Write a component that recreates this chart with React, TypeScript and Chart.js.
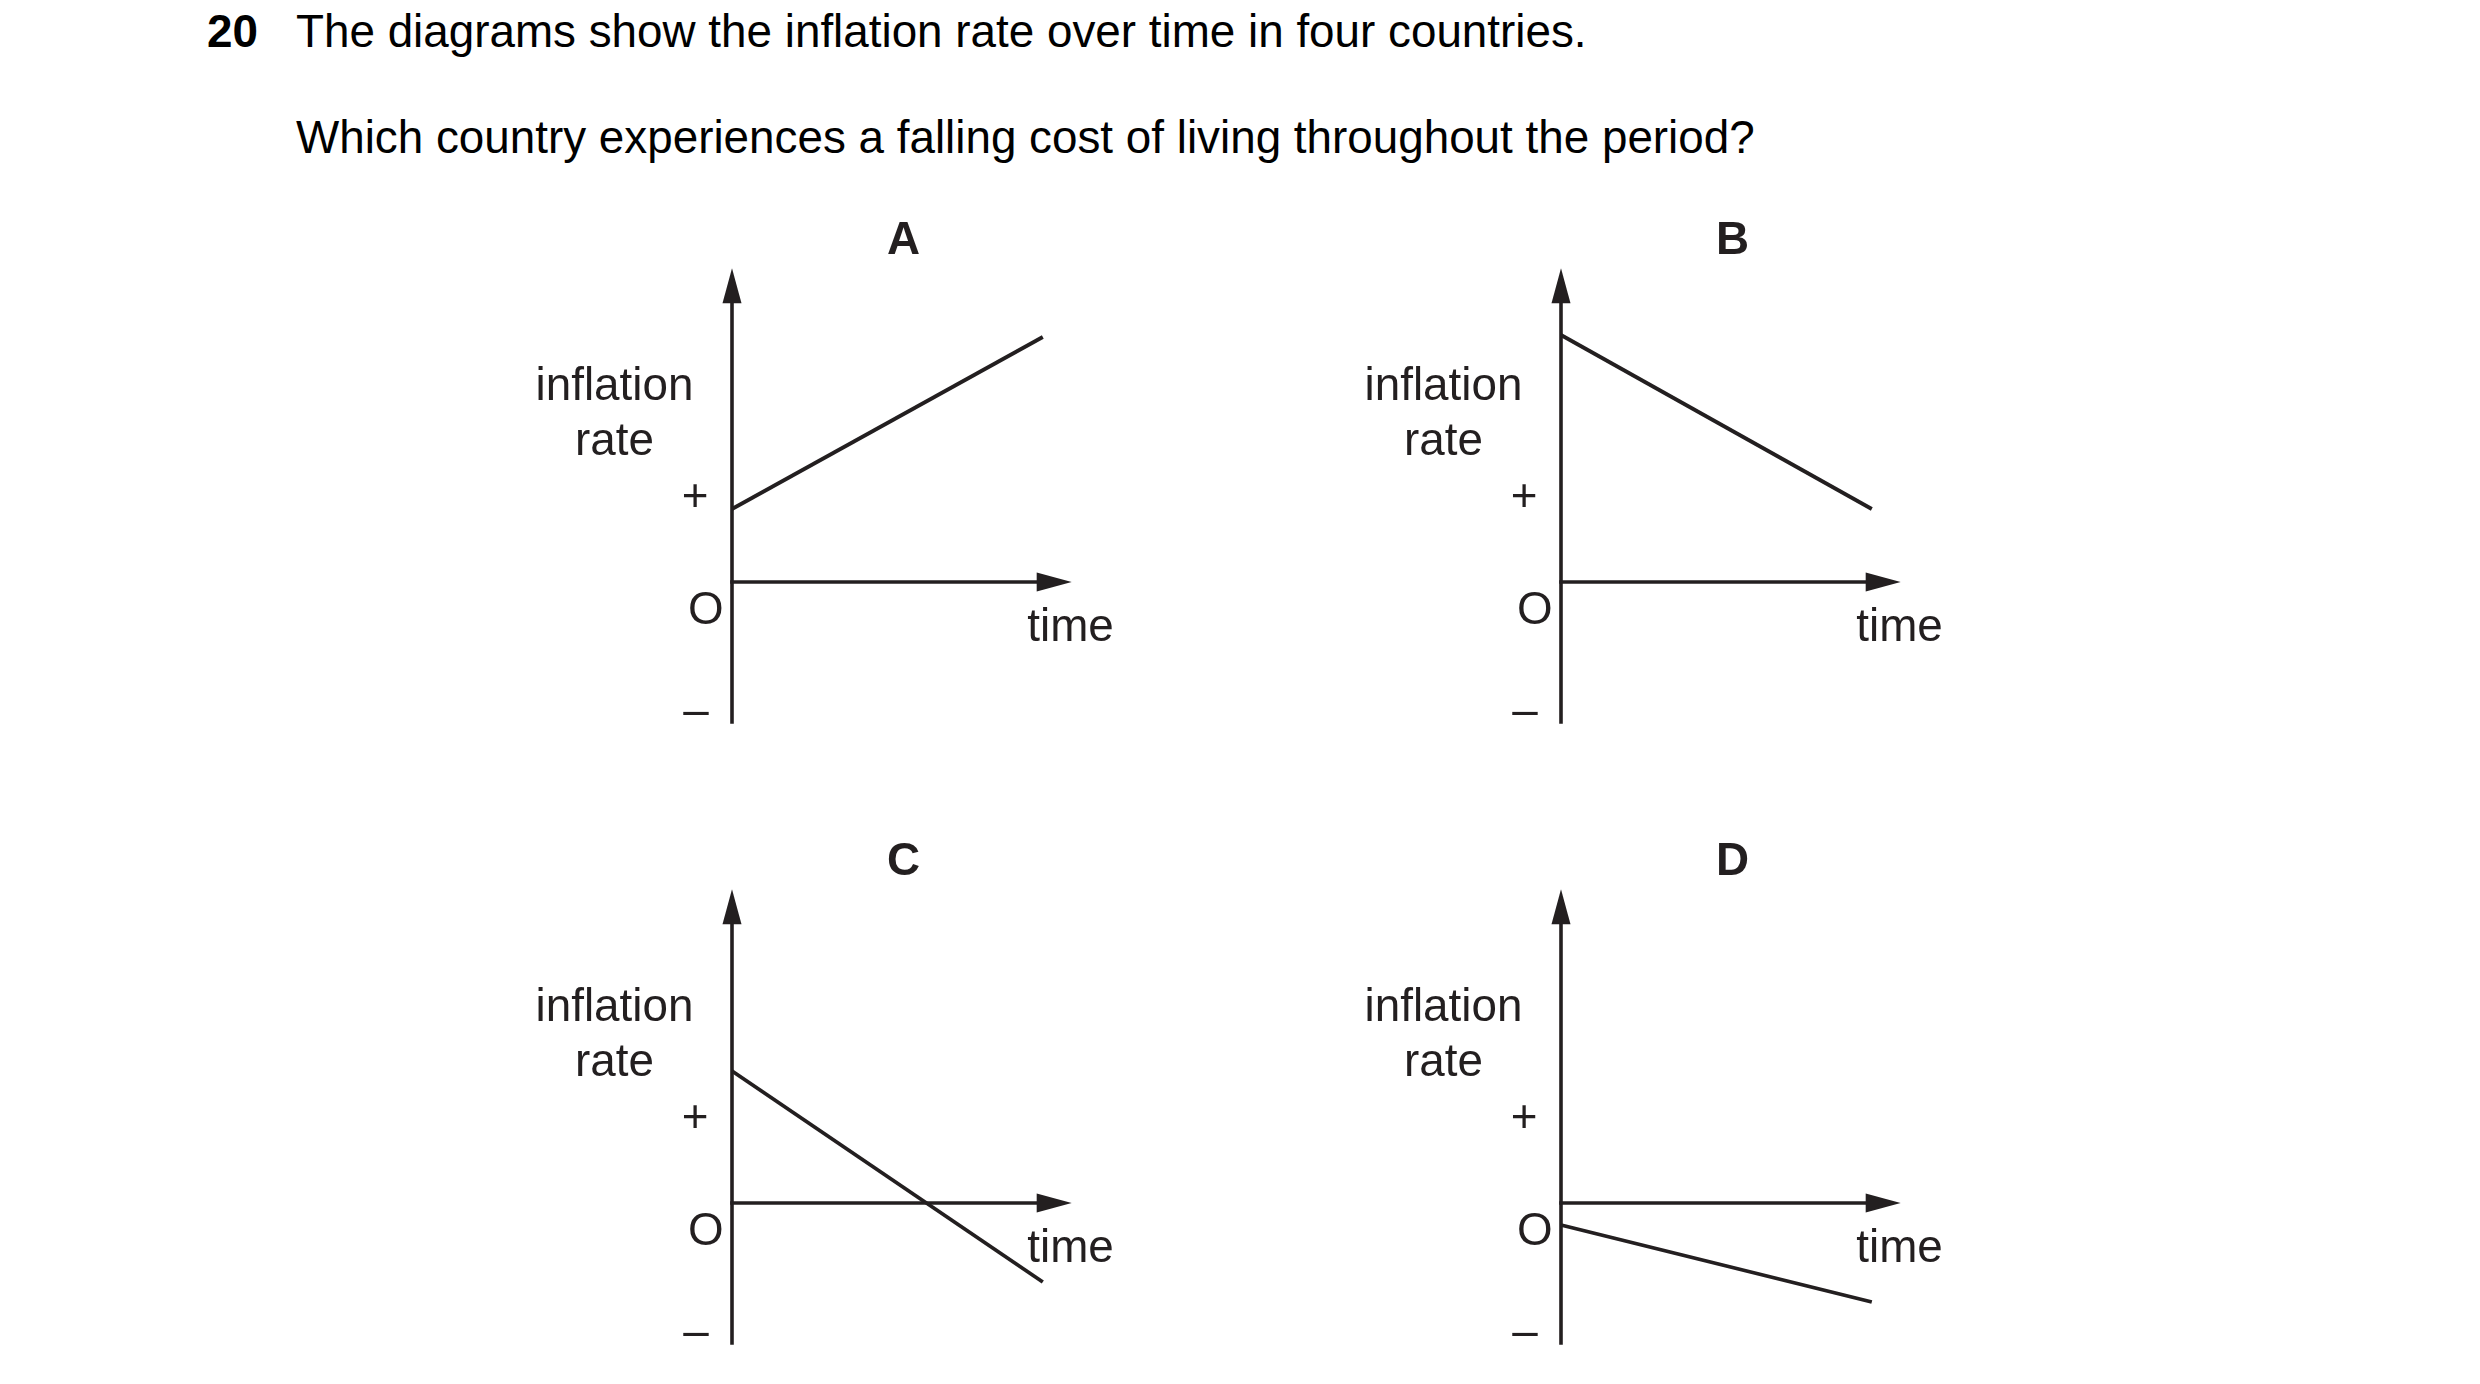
import React, { useEffect, useRef } from "react";
import { Chart, registerables } from "chart.js";

Chart.register(...registerables);

// ---------- data ----------
const QUESTION_NUMBER = "20";
const QUESTION_LINE_1 = "The diagrams show the inflation rate over time in four countries.";
const QUESTION_LINE_2 = "Which country experiences a falling cost of living throughout the period?";

const PANEL_LABELS = ["A", "B", "C", "D"];
const TIME_POINTS = [0, 10];
const RATE_A = [7.3, 24.5];
const RATE_B = [24.7, 7.3];
const RATE_C = [13.2, -7.9];
const RATE_D = [-2.2, -9.9];
const PANEL_SERIES = [RATE_A, RATE_B, RATE_C, RATE_D];

const Y_TICK_LABELS = ["+", "O", "–"];
const Y_AXIS_TITLE = ["inflation", "rate"];
const X_AXIS_TITLE = "time";

// axis ranges (arbitrary units)
const X_MIN = 0;
const X_MAX = 10.93;
const Y_MIN = -14.18;
const Y_MAX = 31.37;

// ---------- layout / style ----------
const INK = "#231f20";
const FONT_FAMILY = '"Liberation Sans", Arial, Helvetica, sans-serif';
const FONT_PX = 45.8;
const AXIS_W = 3.6;
const LINE_W = 3.8;
const ARROW_LEN = 35;
const ARROW_HALF = 9.5;

const PAD = { left: 240, top: 66.3, right: 70.3, bottom: 20.2 };
const CANVAS_W = 650;
const CANVAS_H = 542;
// origins (where axes cross) of each panel in page pixels
const ORIGINS = [
  [732, 581.5],
  [1560.8, 581.5],
  [732, 1203.2],
  [1560.8, 1203.2],
];

// label offsets from the origin, px
const LAYOUT = {
  title: { dx: 171.5, dy: -328.5 },
  yTitle: { dx: -117.5, dy1: -181.6, dy2: -127.1 },
  plus: { dx: -37, dy: -71.3 },
  zero: { dx: -26.3, dy: 42.3 },
  minus: { dx: -36, dy: 143 },
  xTitle: { dx: 338.5, dy: 58.5 },
};

const arrowAxesPlugin = {
  id: "arrowAxes",
  beforeDatasetsDraw(chart: any) {
    const ctx = chart.ctx;
    const xs = chart.scales.x;
    const ys = chart.scales.y;
    const ox = xs.getPixelForValue(0);
    const oy = ys.getPixelForValue(0);
    const top = ys.getPixelForValue(ys.max);
    const bottom = ys.getPixelForValue(ys.min);
    const right = xs.getPixelForValue(xs.max);
    ctx.save();
    ctx.strokeStyle = INK;
    ctx.fillStyle = INK;
    ctx.lineWidth = AXIS_W;
    ctx.lineCap = "butt";
    // y axis
    ctx.beginPath();
    ctx.moveTo(ox, bottom);
    ctx.lineTo(ox, top + ARROW_LEN - 1);
    ctx.stroke();
    ctx.beginPath();
    ctx.moveTo(ox, top);
    ctx.lineTo(ox - ARROW_HALF, top + ARROW_LEN);
    ctx.lineTo(ox + ARROW_HALF, top + ARROW_LEN);
    ctx.closePath();
    ctx.fill();
    // x axis
    ctx.beginPath();
    ctx.moveTo(ox - AXIS_W / 2, oy);
    ctx.lineTo(right - ARROW_LEN + 1, oy);
    ctx.stroke();
    ctx.beginPath();
    ctx.moveTo(right, oy);
    ctx.lineTo(right - ARROW_LEN, oy - ARROW_HALF);
    ctx.lineTo(right - ARROW_LEN, oy + ARROW_HALF);
    ctx.closePath();
    ctx.fill();
    ctx.restore();
  },
  afterDraw(chart: any, _args: any, opts: any) {
    const ctx = chart.ctx;
    const ox = chart.scales.x.getPixelForValue(0);
    const oy = chart.scales.y.getPixelForValue(0);
    ctx.save();
    ctx.fillStyle = INK;
    ctx.textAlign = "center";
    ctx.textBaseline = "alphabetic";
    ctx.font = `bold ${FONT_PX}px ${FONT_FAMILY}`;
    ctx.fillText(opts.label, ox + LAYOUT.title.dx, oy + LAYOUT.title.dy);
    ctx.font = `${FONT_PX}px ${FONT_FAMILY}`;
    ctx.fillText(Y_AXIS_TITLE[0], ox + LAYOUT.yTitle.dx, oy + LAYOUT.yTitle.dy1);
    ctx.fillText(Y_AXIS_TITLE[1], ox + LAYOUT.yTitle.dx, oy + LAYOUT.yTitle.dy2);
    ctx.fillText(Y_TICK_LABELS[0], ox + LAYOUT.plus.dx, oy + LAYOUT.plus.dy);
    ctx.fillText(Y_TICK_LABELS[1], ox + LAYOUT.zero.dx, oy + LAYOUT.zero.dy);
    ctx.fillText(Y_TICK_LABELS[2], ox + LAYOUT.minus.dx, oy + LAYOUT.minus.dy);
    ctx.fillText(X_AXIS_TITLE, ox + LAYOUT.xTitle.dx, oy + LAYOUT.xTitle.dy);
    ctx.restore();
  },
};

function Panel({ index }: { index: number }) {
  const ref = useRef<HTMLCanvasElement | null>(null);
  useEffect(() => {
    if (!ref.current) return;
    const values = PANEL_SERIES[index];
    const chart = new Chart(ref.current, {
      type: "line",
      data: {
        datasets: [
          {
            label: PANEL_LABELS[index],
            data: TIME_POINTS.map((t, i) => ({ x: t, y: values[i] })),
            borderColor: INK,
            borderWidth: LINE_W,
            borderCapStyle: "butt",
            pointRadius: 0,
            tension: 0,
            fill: false,
            clip: false as any,
          },
        ],
      },
      options: {
        responsive: false,
        maintainAspectRatio: false,
        animation: false,
        devicePixelRatio: 1,
        layout: { padding: PAD },
        events: [],
        scales: {
          x: { type: "linear", min: X_MIN, max: X_MAX, display: false },
          y: { type: "linear", min: Y_MIN, max: Y_MAX, display: false },
        },
        plugins: {
          legend: { display: false },
          tooltip: { enabled: false },
          arrowAxes: { label: PANEL_LABELS[index] },
        } as any,
      },
      plugins: [arrowAxesPlugin],
    } as any);
    return () => chart.destroy();
  }, [index]);
  const [ox, oy] = ORIGINS[index];
  return (
    <canvas
      ref={ref}
      width={CANVAS_W}
      height={CANVAS_H}
      style={{
        position: "absolute",
        left: ox - PAD.left,
        top: oy - (PAD.top + (Y_MAX / (Y_MAX - Y_MIN)) * (CANVAS_H - PAD.top - PAD.bottom)),
        width: CANVAS_W,
        height: CANVAS_H,
      }}
    />
  );
}

export default function App() {
  const textStyle: React.CSSProperties = {
    position: "absolute",
    fontFamily: FONT_FAMILY,
    fontSize: FONT_PX,
    lineHeight: `${FONT_PX}px`,
    color: "#000",
    whiteSpace: "nowrap",
    margin: 0,
  };
  return (
    <div
      style={{
        position: "absolute",
        left: 0,
        top: 0,
        width: 2480,
        height: 1384,
        background: "#fff",
        overflow: "hidden",
      }}
    >
      <div style={{ ...textStyle, left: 207, top: 8.5, fontWeight: "bold" }}>{QUESTION_NUMBER}</div>
      <div style={{ ...textStyle, left: 296, top: 8.5 }}>{QUESTION_LINE_1}</div>
      <div style={{ ...textStyle, left: 296, top: 114.5 }}>{QUESTION_LINE_2}</div>
      {PANEL_LABELS.map((_, i) => (
        <Panel key={i} index={i} />
      ))}
    </div>
  );
}
